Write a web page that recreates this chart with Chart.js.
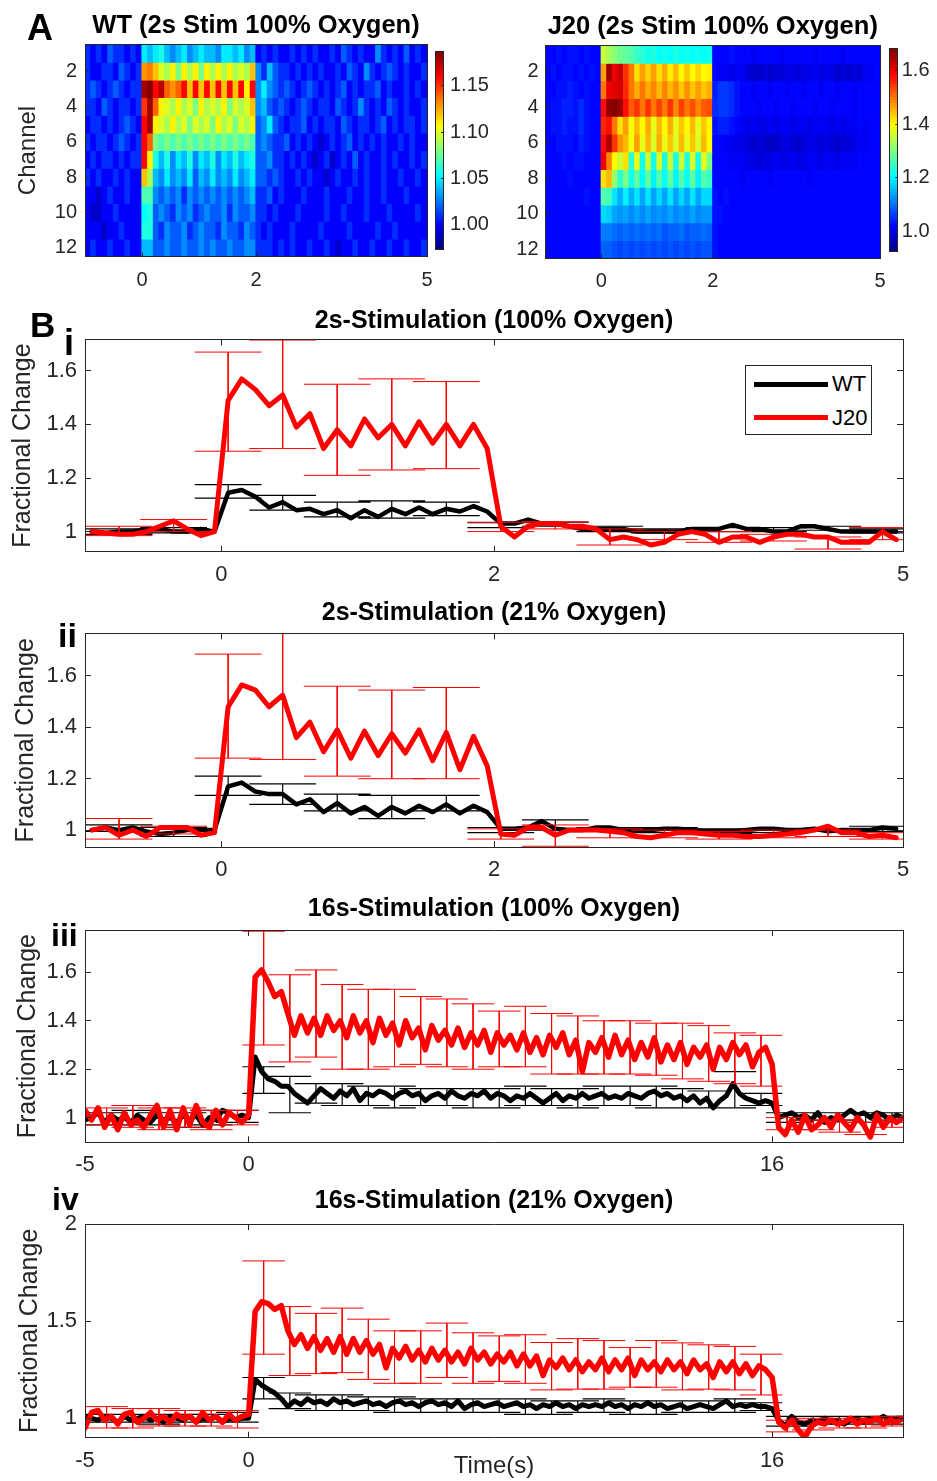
<!DOCTYPE html>
<html>
<head>
<meta charset="utf-8">
<script src="https://cdn.jsdelivr.net/npm/chart.js@4.4.0/dist/chart.umd.min.js"></script>
<style>
body { margin: 0; background: #fff; }
#fig { position: relative; width: 937px; height: 1481px; background: #fff; font-family: "Liberation Sans", Arial, sans-serif; overflow: hidden; }
#fig canvas { position: absolute; }
.lab { position: absolute; font-weight: bold; line-height: 1; color: #000; }
#legend { position: absolute; left: 745px; top: 365px; width: 127px; height: 70px; border: 1px solid #262626; background: #fff; box-sizing: border-box; font-size: 22px; color: #000; }
#legend div { position: absolute; }
</style>
</head>
<body>
<div id="fig">
  <canvas id="hmWT" width="458" height="300" style="left:0;top:0"></canvas>
  <canvas id="cbWT" width="70" height="240" style="left:431px;top:30px"></canvas>
  <canvas id="hmJ20" width="440" height="300" style="left:470px;top:0"></canvas>
  <canvas id="cbJ20" width="53" height="240" style="left:884px;top:30px"></canvas>
  <canvas id="b1" width="937" height="300" style="left:0;top:290px"></canvas>
  <canvas id="b2" width="937" height="297" style="left:0;top:583px"></canvas>
  <canvas id="b3" width="937" height="300" style="left:0;top:880px"></canvas>
  <canvas id="b4" width="937" height="311" style="left:0;top:1170px"></canvas>

  <div class="lab" style="left:27px;top:10px;font-size:36px">A</div>
  <div class="lab" style="left:30px;top:307px;font-size:35px">B</div>
  <div class="lab" style="left:64px;top:325px;font-size:36px">i</div>
  <div class="lab" style="left:58px;top:618px;font-size:34px">ii</div>
  <div class="lab" style="left:51px;top:919px;font-size:32px">iii</div>
  <div class="lab" style="left:52px;top:1183px;font-size:32px">iv</div>

  <div id="legend">
    <div style="left:8px;top:16px;width:74px;height:5px;background:#000"></div>
    <div style="left:86px;top:6px;line-height:24px">WT</div>
    <div style="left:8px;top:49px;width:74px;height:5px;background:#f00"></div>
    <div style="left:86px;top:40px;line-height:24px">J20</div>
  </div>
</div>

<script>
// ---------- panel A: heatmaps (12 channels x 60 bins of 0.1 s, -1 s .. 5 s) ----------
const binStart = -1, binWidth = 0.1;
const channels = [1, 2, 3, 4, 5, 6, 7, 8, 9, 10, 11, 12];
const channelTicks = [2, 4, 6, 8, 10, 12];
const heatTimeTicks = [0, 2, 5];
const wtRange = [0.974, 1.1875];
const wtBarTicks = [1.00, 1.05, 1.10, 1.15];
const j20Range = [0.923, 1.683];
const j20BarTicks = [1.0, 1.2, 1.4, 1.6];

const wtCh1 = [
1.01,1.00,1.01,1.00,1.02,1.01,1.01,1.00,1.01,1.00,
1.05,1.04,1.05,1.06,1.04,1.03,1.04,1.05,1.03,1.04,
1.05,1.04,1.04,1.03,1.05,1.05,1.04,1.05,1.03,1.04,
1.00,1.01,1.00,1.01,1.00,1.00,1.01,1.00,1.01,1.00,
1.01,1.00,1.00,1.01,1.00,1.02,1.01,1.00,1.01,1.00,
1.00,1.03,1.01,1.00,1.01,1.00,1.02,1.00,1.01,1.00];
const wtCh2 = [
1.01,1.00,1.00,1.01,1.01,1.00,1.02,1.01,1.00,1.01,
1.13,1.135,1.12,1.10,1.09,1.11,1.08,1.11,1.09,1.11,
1.08,1.11,1.09,1.11,1.09,1.11,1.09,1.10,1.09,1.12,
1.03,1.01,1.04,1.02,1.01,1.01,1.00,1.01,1.00,1.01,
1.00,1.01,1.00,1.00,1.01,1.00,1.02,1.01,1.00,1.03,
1.01,1.00,1.01,1.02,1.01,1.00,1.01,1.00,1.00,1.01];
const wtCh3 = [
1.01,1.02,1.01,1.00,1.01,1.02,1.01,1.00,1.01,1.01,
1.18,1.187,1.16,1.175,1.14,1.13,1.14,1.16,1.12,1.16,
1.12,1.16,1.12,1.16,1.12,1.16,1.12,1.16,1.11,1.16,
1.03,1.05,1.03,1.02,1.01,1.02,1.01,1.00,1.01,1.02,
1.01,1.00,1.01,1.00,1.01,1.02,1.00,1.01,1.00,1.01,
1.01,1.02,1.00,1.01,1.00,1.00,1.01,1.00,1.01,1.00];
const wtCh4 = [
1.01,1.01,1.00,1.02,1.01,1.00,1.01,1.01,1.00,1.01,
1.15,1.18,1.14,1.11,1.10,1.09,1.11,1.09,1.10,1.08,
1.11,1.09,1.10,1.09,1.11,1.08,1.10,1.09,1.10,1.12,
1.03,1.04,1.02,1.01,1.02,1.01,1.00,1.01,1.02,1.01,
1.00,1.01,1.01,1.00,1.02,1.01,1.00,1.01,1.03,1.01,
1.00,1.01,1.00,1.02,1.01,1.00,1.01,1.00,1.00,1.01];
const wtCh5 = [
1.00,1.01,1.01,1.00,1.01,1.00,1.01,1.02,1.01,1.00,
1.16,1.18,1.11,1.10,1.09,1.11,1.09,1.10,1.08,1.10,
1.09,1.10,1.08,1.11,1.09,1.10,1.08,1.10,1.09,1.11,
1.02,1.03,1.05,1.02,1.01,1.00,1.01,1.01,1.02,1.00,
1.01,1.00,1.01,1.01,1.00,1.02,1.01,1.00,1.01,1.01,
1.00,1.01,1.02,1.00,1.01,1.00,1.01,1.01,1.00,1.01];
const wtCh6 = [
1.01,1.00,1.01,1.01,1.00,1.01,1.02,1.01,1.00,1.01,
1.16,1.14,1.08,1.07,1.08,1.07,1.08,1.07,1.08,1.07,
1.08,1.07,1.08,1.07,1.08,1.07,1.08,1.07,1.08,1.07,
1.02,1.03,1.02,1.01,1.01,1.02,1.00,1.01,1.00,1.01,
1.00,0.99,1.00,1.01,1.00,1.01,1.02,1.00,1.01,1.00,
1.01,1.00,1.01,1.00,1.00,1.01,1.00,1.01,1.00,1.00];
const wtCh7 = [
1.00,1.01,1.00,1.01,1.01,1.00,1.01,1.00,1.01,1.01,
1.16,1.11,1.06,1.04,1.06,1.03,1.05,1.04,1.06,1.03,
1.05,1.04,1.06,1.03,1.05,1.04,1.06,1.04,1.05,1.06,
1.02,1.02,1.03,1.01,1.01,1.00,1.01,1.00,1.01,1.00,
0.99,1.00,1.01,0.99,1.00,1.01,1.00,1.02,1.00,1.01,
1.00,1.00,1.01,1.00,1.01,1.00,1.00,1.01,1.00,1.01];
const wtCh8 = [
1.01,1.00,1.01,1.00,1.00,1.01,1.00,1.01,1.00,1.00,
1.12,1.09,1.04,1.03,1.05,1.03,1.04,1.03,1.05,1.02,
1.04,1.03,1.05,1.03,1.04,1.03,1.05,1.03,1.04,1.05,
1.02,1.02,1.01,1.02,1.01,1.00,1.00,1.01,1.00,1.01,
1.00,1.00,0.99,1.00,1.01,1.00,1.00,1.01,1.00,1.01,
1.00,1.00,1.01,1.00,1.00,1.01,1.00,1.00,1.01,1.00];
const wtCh9 = [
1.00,1.00,0.99,1.00,1.01,1.00,1.00,1.01,1.00,1.00,
1.07,1.07,1.03,1.02,1.03,1.02,1.03,1.01,1.03,1.02,
1.03,1.02,1.03,1.02,1.03,1.02,1.03,1.02,1.03,1.04,
1.01,1.01,1.02,1.00,1.01,1.00,1.00,1.00,1.01,1.00,
1.00,1.00,1.01,1.00,1.00,1.00,1.01,1.00,1.00,1.01,
1.00,1.00,1.01,1.00,1.00,1.00,1.01,1.00,1.00,1.00];
const wtCh10 = [
1.00,0.99,0.99,1.00,1.00,1.01,1.00,1.00,1.00,1.00,
1.055,1.06,1.02,1.03,1.02,1.01,1.03,1.02,1.03,1.01,
1.02,1.03,1.02,1.02,1.03,1.01,1.03,1.02,1.02,1.03,
1.01,1.01,1.00,1.01,1.00,1.00,1.00,1.01,1.00,1.00,
1.00,1.00,1.01,1.00,1.00,1.01,1.00,1.00,1.00,1.01,
1.00,1.00,1.00,1.01,1.00,1.00,1.00,1.00,1.01,1.00];
const wtCh11 = [
1.00,1.00,1.00,0.99,1.00,1.00,1.01,1.00,1.00,1.00,
1.06,1.06,1.02,1.01,1.03,1.02,1.02,1.03,1.01,1.02,
1.03,1.02,1.02,1.01,1.03,1.02,1.02,1.01,1.03,1.02,
1.01,1.00,1.01,1.00,1.00,1.00,1.01,1.00,1.00,1.00,
1.00,1.01,1.00,1.00,1.00,1.00,1.01,1.00,1.00,1.00,
1.00,1.01,1.00,1.00,1.01,1.00,1.00,1.00,1.00,1.00];
const wtCh12 = [
1.00,1.01,1.00,1.00,1.01,1.00,1.00,1.01,1.00,1.00,
1.04,1.04,1.02,1.02,1.03,1.02,1.02,1.03,1.02,1.02,
1.03,1.02,1.03,1.02,1.02,1.03,1.02,1.02,1.03,1.03,
1.01,1.01,1.01,1.00,1.01,1.00,1.01,1.00,1.00,1.01,
1.00,1.00,1.01,1.00,0.99,1.00,1.00,1.01,1.00,1.00,
1.01,1.00,1.00,1.01,1.00,1.00,1.01,1.00,1.00,1.01];

const j20Ch1 = [
1.02,1.02,1.03,1.02,1.03,1.03,1.02,1.03,1.02,1.02,
1.36,1.33,1.31,1.29,1.28,1.27,1.25,1.24,1.22,1.23,
1.21,1.22,1.21,1.23,1.21,1.22,1.21,1.22,1.21,1.22,
1.02,1.02,1.02,1.03,1.02,1.02,1.02,1.01,1.02,1.02,
1.02,1.02,1.01,1.02,1.02,1.02,1.02,1.02,1.01,1.02,
1.02,1.02,1.02,1.01,1.02,1.02,1.02,1.02,1.02,1.02];
const j20Ch2 = [
1.02,1.03,1.02,1.03,1.03,1.02,1.03,1.02,1.03,1.02,
1.47,1.66,1.60,1.63,1.55,1.50,1.42,1.47,1.43,1.47,
1.42,1.46,1.41,1.45,1.40,1.44,1.40,1.43,1.40,1.41,
1.02,1.01,1.01,1.00,1.01,1.01,0.99,0.98,0.98,0.99,
0.98,0.99,0.99,1.00,1.00,0.99,1.00,1.00,1.01,1.00,
1.00,1.00,0.98,0.99,0.98,0.99,0.99,1.01,1.01,1.02];
const j20Ch3 = [
1.02,1.02,1.03,1.03,1.04,1.03,1.02,1.03,1.02,1.02,
1.50,1.60,1.61,1.62,1.56,1.50,1.46,1.50,1.46,1.49,
1.45,1.49,1.45,1.48,1.44,1.48,1.44,1.47,1.44,1.46,
1.04,1.06,1.06,1.05,1.03,1.02,1.02,1.01,1.02,1.02,
1.01,1.02,1.02,1.01,1.02,1.02,1.01,1.02,1.02,1.01,
1.02,1.02,1.01,1.02,1.02,1.01,1.02,1.02,1.02,1.02];
const j20Ch4 = [
1.02,1.03,1.03,1.04,1.04,1.03,1.05,1.03,1.02,1.02,
1.58,1.67,1.68,1.66,1.58,1.52,1.55,1.50,1.55,1.50,
1.54,1.50,1.55,1.49,1.54,1.50,1.53,1.49,1.52,1.53,
1.05,1.06,1.06,1.05,1.03,1.02,1.02,1.02,1.01,1.02,
1.02,1.01,1.02,1.02,1.01,1.02,1.02,1.02,1.01,1.02,
1.02,1.01,1.02,1.02,1.02,1.01,1.02,1.02,1.02,1.02];
const j20Ch5 = [
1.02,1.03,1.03,1.04,1.03,1.03,1.05,1.03,1.02,1.02,
1.56,1.58,1.50,1.42,1.47,1.39,1.45,1.40,1.46,1.38,
1.45,1.40,1.46,1.38,1.44,1.40,1.45,1.38,1.44,1.40,
1.03,1.04,1.04,1.03,1.02,1.01,1.00,1.01,1.00,1.00,
1.01,1.00,1.01,1.01,1.00,1.01,1.01,1.00,1.01,1.01,
1.01,1.00,1.01,1.00,1.01,1.01,1.02,1.01,1.02,1.02];
const j20Ch6 = [
1.02,1.02,1.03,1.03,1.03,1.02,1.04,1.03,1.02,1.02,
1.58,1.65,1.55,1.48,1.45,1.39,1.47,1.38,1.45,1.37,
1.46,1.38,1.44,1.37,1.45,1.38,1.44,1.37,1.45,1.40,
1.02,1.02,1.01,1.01,1.00,1.00,0.99,0.98,0.99,0.98,
0.97,0.98,0.99,1.00,0.99,0.98,0.99,1.00,1.00,0.99,
1.00,0.99,0.98,0.99,0.99,1.00,1.01,1.01,1.02,1.02];
const j20Ch7 = [
1.02,1.02,1.02,1.03,1.02,1.03,1.03,1.02,1.02,1.02,
1.60,1.49,1.40,1.36,1.42,1.24,1.38,1.22,1.36,1.22,
1.37,1.23,1.36,1.22,1.36,1.23,1.37,1.22,1.38,1.30,
1.02,1.02,1.02,1.01,1.01,1.01,1.00,1.00,0.99,1.00,
1.00,1.01,1.00,1.00,1.01,1.00,1.00,1.01,1.01,1.00,
1.01,1.01,1.00,1.01,1.01,1.01,1.02,1.02,1.02,1.02];
const j20Ch8 = [
1.02,1.02,1.02,1.02,1.03,1.02,1.02,1.02,1.02,1.02,
1.42,1.45,1.32,1.24,1.30,1.22,1.28,1.21,1.28,1.20,
1.27,1.21,1.28,1.20,1.27,1.21,1.28,1.20,1.27,1.25,
1.02,1.02,1.02,1.02,1.02,1.01,1.02,1.02,1.02,1.02,
1.01,1.02,1.02,1.02,1.02,1.02,1.02,1.01,1.02,1.02,
1.02,1.02,1.02,1.02,1.02,1.02,1.02,1.02,1.02,1.02];
const j20Ch9 = [
1.02,1.02,1.02,1.02,1.02,1.02,1.02,1.03,1.02,1.02,
1.27,1.26,1.19,1.15,1.20,1.15,1.19,1.14,1.19,1.14,
1.18,1.14,1.19,1.14,1.18,1.14,1.19,1.14,1.18,1.18,
1.03,1.02,1.03,1.02,1.02,1.02,1.02,1.02,1.02,1.02,
1.02,1.02,1.02,1.02,1.02,1.02,1.02,1.02,1.02,1.02,
1.02,1.02,1.02,1.02,1.02,1.02,1.02,1.02,1.02,1.02];
const j20Ch10 = [
1.02,1.02,1.02,1.02,1.02,1.02,1.02,1.02,1.02,1.02,
1.18,1.17,1.14,1.13,1.14,1.12,1.14,1.12,1.14,1.12,
1.13,1.12,1.14,1.12,1.13,1.12,1.14,1.12,1.13,1.13,
1.03,1.03,1.02,1.02,1.02,1.02,1.02,1.02,1.02,1.02,
1.02,1.02,1.02,1.02,1.02,1.02,1.02,1.02,1.02,1.02,
1.02,1.02,1.02,1.02,1.02,1.02,1.02,1.02,1.02,1.02];
const j20Ch11 = [
1.02,1.02,1.02,1.02,1.02,1.02,1.02,1.02,1.02,1.02,
1.11,1.11,1.10,1.09,1.10,1.09,1.10,1.09,1.10,1.09,
1.10,1.08,1.09,1.09,1.10,1.08,1.09,1.09,1.10,1.09,
1.03,1.02,1.02,1.02,1.02,1.02,1.02,1.02,1.02,1.02,
1.02,1.02,1.02,1.02,1.02,1.02,1.02,1.02,1.02,1.02,
1.02,1.02,1.02,1.02,1.02,1.02,1.02,1.02,1.02,1.02];
const j20Ch12 = [
1.02,1.02,1.02,1.02,1.02,1.02,1.02,1.02,1.02,1.02,
1.09,1.09,1.08,1.07,1.08,1.07,1.08,1.07,1.08,1.07,
1.08,1.07,1.08,1.07,1.08,1.07,1.08,1.07,1.08,1.08,
1.03,1.02,1.02,1.02,1.02,1.02,1.02,1.02,1.02,1.02,
1.02,1.02,1.02,1.02,1.02,1.02,1.02,1.02,1.02,1.02,
1.02,1.02,1.02,1.02,1.02,1.02,1.02,1.02,1.02,1.02];

const wtRows = [wtCh1, wtCh2, wtCh3, wtCh4, wtCh5, wtCh6, wtCh7, wtCh8, wtCh9, wtCh10, wtCh11, wtCh12];
const j20Rows = [j20Ch1, j20Ch2, j20Ch3, j20Ch4, j20Ch5, j20Ch6, j20Ch7, j20Ch8, j20Ch9, j20Ch10, j20Ch11, j20Ch12];

// ---------- panel B: mean traces ----------
// 2 s stimulation: 60 samples, 0.1 s apart, first at -0.95 s
const t2sStart = -0.95, t2sStep = 0.1;
// 16 s stimulation: 126 samples, 0.2 s apart, first at -5 s
const t16sStart = -5, t16sStep = 0.2;
const xTicks2s = [0, 2, 5];
const xTicks16s = [-5, 0, 16];
const yTicksLow = [1, 1.2, 1.4, 1.6];
const yTicksHigh = [1, 1.5, 2];

const wt2s100 = [
1.00,0.995,1.00,1.00,1.01,1.01,1.00,1.00,1.01,1.00,
1.145,1.155,1.13,1.09,1.11,1.08,1.085,1.065,1.08,1.05,
1.08,1.055,1.085,1.065,1.09,1.065,1.085,1.075,1.095,1.075,
1.03,1.03,1.045,1.03,1.03,1.02,1.01,1.01,1.01,1.01,
1.00,1.00,1.00,1.00,1.01,1.01,1.01,1.025,1.01,1.01,
1.00,1.00,1.02,1.02,1.01,1.00,1.00,1.00,1.00,1.00];
const j20_2s100 = [
1.00,0.995,0.99,0.99,1.00,1.02,1.04,1.01,0.985,1.00,
1.49,1.57,1.53,1.47,1.51,1.39,1.44,1.31,1.38,1.32,
1.42,1.35,1.40,1.32,1.41,1.33,1.40,1.32,1.40,1.31,
1.02,0.98,1.02,1.03,1.03,1.02,1.02,1.01,0.97,0.98,
0.97,0.95,0.96,0.99,1.00,0.99,0.96,0.98,0.98,0.96,
0.98,0.99,0.99,0.98,0.98,0.96,0.96,0.96,1.00,0.97];
const wt2s21 = [
1.00,1.01,1.00,1.01,0.995,0.985,0.99,1.00,1.00,1.00,
1.17,1.185,1.15,1.14,1.14,1.10,1.12,1.07,1.105,1.065,
1.09,1.055,1.09,1.065,1.095,1.07,1.10,1.065,1.095,1.07,
1.005,1.005,1.01,1.035,1.005,1.00,1.00,1.01,1.01,1.00,
1.00,1.00,1.005,1.005,1.00,0.995,0.995,0.995,1.00,1.005,
1.005,1.00,1.00,1.005,0.995,1.00,1.00,1.00,1.01,1.005];
const j20_2s21 = [
1.00,1.01,0.98,1.00,0.975,1.01,1.01,1.01,0.98,0.99,
1.48,1.565,1.545,1.48,1.525,1.36,1.42,1.305,1.39,1.28,
1.385,1.29,1.375,1.30,1.39,1.27,1.38,1.235,1.365,1.25,
0.985,0.98,1.01,1.01,0.98,1.00,1.00,1.00,0.995,0.99,
0.975,0.97,0.98,0.99,0.99,0.985,0.98,0.98,0.975,0.975,
0.98,0.985,0.99,1.00,1.015,0.99,0.99,0.975,0.98,0.97];

const wt16s100 = [
0.99,1.00,1.02,0.98,1.01,0.99,1.00,0.98,1.01,0.99,
0.98,1.01,0.99,1.00,0.98,1.01,0.99,1.01,0.97,1.00,
0.99,1.03,1.02,1.00,1.01,1.00,1.25,1.19,1.16,1.15,
1.13,1.13,1.10,1.08,1.06,1.09,1.12,1.10,1.08,1.11,
1.09,1.12,1.07,1.10,1.09,1.11,1.10,1.08,1.10,1.11,
1.09,1.10,1.07,1.09,1.10,1.08,1.11,1.09,1.08,1.10,
1.09,1.11,1.08,1.10,1.09,1.07,1.09,1.08,1.10,1.08,
1.06,1.08,1.10,1.07,1.09,1.08,1.10,1.08,1.09,1.10,
1.08,1.09,1.08,1.10,1.09,1.08,1.10,1.11,1.09,1.10,
1.08,1.09,1.07,1.09,1.06,1.08,1.04,1.07,1.09,1.14,
1.10,1.08,1.07,1.06,1.07,1.06,1.00,1.01,1.02,1.00,
1.01,0.99,1.02,0.98,1.00,0.99,1.01,1.03,1.01,1.02,
1.00,1.02,1.01,0.99,1.01,1.00];
const j20_16s100 = [
1.03,0.99,1.04,0.96,1.01,0.95,1.02,0.97,0.99,0.96,
1.01,1.05,0.96,1.03,0.95,1.04,0.97,1.05,0.98,0.96,
1.03,0.97,1.02,1.00,0.98,1.01,1.58,1.61,1.56,1.50,
1.52,1.43,1.34,1.42,1.35,1.41,1.34,1.42,1.36,1.40,
1.33,1.42,1.35,1.40,1.31,1.41,1.34,1.39,1.30,1.40,
1.33,1.37,1.28,1.38,1.32,1.36,1.30,1.37,1.29,1.35,
1.30,1.36,1.27,1.35,1.30,1.34,1.28,1.35,1.27,1.33,
1.26,1.34,1.29,1.35,1.26,1.32,1.19,1.31,1.27,1.33,
1.25,1.34,1.26,1.32,1.24,1.31,1.25,1.33,1.23,1.30,
1.24,1.31,1.22,1.29,1.25,1.30,1.20,1.29,1.24,1.31,
1.26,1.30,1.21,1.27,1.29,1.22,0.96,0.93,0.99,0.94,
1.01,0.95,0.97,1.00,0.96,1.01,0.98,0.95,1.00,0.97,
0.92,1.01,0.96,1.00,0.98,1.00];
const wt16s21 = [
1.01,1.00,0.99,1.01,1.00,0.98,1.01,0.99,1.00,1.01,
0.99,1.00,0.98,1.01,1.00,0.99,1.01,0.98,1.00,0.99,
1.01,0.98,1.00,0.99,1.00,1.00,1.20,1.17,1.15,1.13,
1.10,1.06,1.09,1.07,1.10,1.08,1.09,1.07,1.10,1.08,
1.09,1.07,1.08,1.09,1.07,1.08,1.06,1.08,1.09,1.07,
1.08,1.06,1.08,1.09,1.07,1.08,1.06,1.09,1.05,1.07,
1.08,1.06,1.07,1.08,1.06,1.07,1.08,1.06,1.07,1.05,
1.07,1.06,1.08,1.06,1.07,1.05,1.07,1.06,1.07,1.06,
1.08,1.06,1.07,1.05,1.07,1.06,1.08,1.06,1.07,1.05,
1.06,1.07,1.05,1.06,1.07,1.06,1.05,1.07,1.09,1.06,
1.07,1.06,1.07,1.06,1.06,1.05,0.99,0.96,1.01,0.98,
0.97,0.99,0.98,1.00,0.98,0.99,0.97,0.99,1.00,0.98,
1.00,0.99,1.01,0.99,1.00,1.00];
const j20_16s21 = [
0.95,1.03,1.04,0.99,1.01,0.97,1.02,1.03,0.98,1.00,
1.03,0.99,1.01,0.98,1.02,1.00,1.01,0.98,1.03,0.99,
1.01,0.98,1.02,0.99,1.01,1.02,1.55,1.60,1.59,1.56,
1.58,1.45,1.38,1.43,1.36,1.42,1.35,1.41,1.34,1.42,
1.33,1.41,1.34,1.40,1.33,1.38,1.26,1.36,1.31,1.37,
1.30,1.35,1.29,1.36,1.30,1.35,1.29,1.34,1.28,1.36,
1.30,1.34,1.28,1.33,1.29,1.34,1.27,1.33,1.27,1.32,
1.22,1.30,1.26,1.31,1.25,1.30,1.24,1.29,1.25,1.31,
1.24,1.30,1.25,1.31,1.22,1.30,1.25,1.29,1.24,1.30,
1.25,1.29,1.23,1.30,1.25,1.28,1.21,1.29,1.24,1.29,
1.23,1.28,1.22,1.27,1.25,1.21,0.98,0.95,0.99,0.94,
0.90,0.96,0.98,0.97,0.99,0.97,0.98,1.00,0.97,0.99,
0.98,1.00,0.97,0.99,0.98,1.00];

// error bars (upper / lower ends) at these times
const errT2s = [-0.75,-0.35,0.05,0.45,0.85,1.25,1.65,2.05,2.45,2.85,3.25,3.65,4.05,4.45,4.85];
const j20_2s100Hi = [1.02,1.045,1.67,1.715,1.55,1.57,1.56,1.035,1.037,1.01,1.00,1.00,0.99,0.98,1.015];
const j20_2s100Lo = [0.985,1.00,1.30,1.31,1.21,1.23,1.235,1.00,1.01,0.95,0.97,0.96,0.965,0.935,0.97];
const wt2s100Hi = [1.01,1.015,1.175,1.135,1.11,1.115,1.11,1.033,1.035,1.02,1.01,1.015,1.015,1.02,1.01];
const wt2s100Lo = [0.99,0.995,1.125,1.08,1.055,1.05,1.06,1.015,1.02,1.00,0.995,1.00,1.00,1.005,0.995];
const j20_2s21Hi = [1.045,1.015,1.685,1.765,1.56,1.545,1.555,1.005,1.02,1.005,1.00,0.995,1.00,1.00,0.99];
const j20_2s21Lo = [0.965,0.985,1.28,1.275,1.21,1.20,1.20,0.965,0.937,0.97,0.97,0.965,0.97,0.975,0.965];
const wt2s21Hi = [1.02,1.01,1.21,1.18,1.14,1.135,1.135,1.01,1.04,1.01,1.01,1.005,1.005,1.005,1.015];
const wt2s21Lo = [0.995,0.975,1.135,1.10,1.075,1.045,1.075,0.99,1.00,0.995,0.99,0.985,0.99,0.995,0.995];

const errT16s = [-4.34,-3.54,-2.74,-1.94,-1.14,-0.34,0.46,1.26,2.06,2.86,3.66,4.46,5.26,6.06,6.86,
  7.66,8.46,9.26,10.06,10.86,11.66,12.46,13.26,14.06,14.86,15.66,16.46,17.26,18.06,18.86,19.66];
const j20_16s100Hi = [1.04,1.05,1.04,1.04,1.03,1.03, 1.77,1.59,1.61,1.55,1.53,1.53,1.50,1.49,1.47,
  1.44,1.46,1.43,1.42,1.40,1.40,1.39,1.39,1.38,1.35,1.34, 1.00,0.99,0.99,0.98,0.98];
const j20_16s100Lo = [0.97,0.96,0.95,0.96,0.95,0.97, 1.30,1.23,1.25,1.20,1.20,1.21,1.22,1.21,1.20,
  1.21,1.21,1.18,1.18,1.18,1.18,1.175,1.16,1.15,1.14,1.13, 0.95,0.95,0.94,0.93,0.96];
const wt16s100Hi = [1.02,1.03,1.02,1.02,1.03,1.03, 1.21,1.17,1.14,1.14,1.13,1.13,1.12,1.12,1.12,
  1.12,1.13,1.12,1.12,1.13,1.13,1.13,1.12,1.11,1.19,1.10, 1.02,1.02,1.02,1.02,1.02];
const wt16s100Lo = [0.97,0.97,0.97,0.96,0.97,0.98, 1.10,1.02,1.06,1.05,1.05,1.04,1.05,1.05,1.04,
  1.04,1.05,1.05,1.04,1.05,1.05,1.04,1.04,1.04,1.04,1.05, 0.98,0.99,0.99,0.98,0.99];
const j20_16s21Hi = [1.06,1.05,1.05,1.04,1.04,1.04, 1.81,1.575,1.54,1.567,1.51,1.45,1.45,1.49,1.44,
  1.424,1.43,1.39,1.41,1.40,1.364,1.40,1.388,1.378,1.37,1.33, 0.99,1.00,1.00,1.00,1.01];
const j20_16s21Lo = [0.95,0.95,0.96,0.96,0.96,0.95, 1.33,1.22,1.23,1.235,1.20,1.18,1.18,1.21,1.18,
  1.19,1.18,1.146,1.15,1.15,1.16,1.16,1.146,1.15,1.146,1.12, 0.93,0.94,0.95,0.95,0.96];
const wt16s21Hi = [1.02,1.02,1.02,1.02,1.02,1.03, 1.21,1.13,1.12,1.12,1.11,1.11,1.10,1.10,1.10,
  1.10,1.10,1.09,1.09,1.10,1.09,1.09,1.09,1.09,1.10,1.08, 1.01,1.01,1.01,1.01,1.01];
const wt16s21Lo = [0.98,0.98,0.97,0.98,0.98,0.98, 1.10,1.05,1.04,1.04,1.04,1.03,1.03,1.03,1.03,
  1.03,1.02,1.02,1.03,1.03,1.02,1.02,1.03,1.03,1.03,1.04, 0.96,0.97,0.97,0.97,0.97];

// ---------- drawing ----------
Chart.defaults.font.family = '"Liberation Sans", Arial, sans-serif';
Chart.defaults.color = '#262626';
const AX = '#262626';
const RED = '#ff0000';

const fixed = px => s => { if (s.isHorizontal()) s.height = px; else s.width = px; };
const tickList = vals => s => { s.ticks = vals.map(v => ({value: v})); };

function jet(f) {
  f = Math.min(1, Math.max(0, f));
  const c = x => Math.round(255 * Math.min(1, Math.max(0, x)));
  return 'rgb(' + c(1.5 - Math.abs(4 * f - 3)) + ',' + c(1.5 - Math.abs(4 * f - 2)) + ',' + c(1.5 - Math.abs(4 * f - 1)) + ')';
}

function titleOpts(text, centerY, areaTop, size) {
  const lh = size * 1.2;
  const top = centerY - lh / 2;
  return {display: true, text: text, fullSize: false, color: '#000',
    font: {size: size, weight: 'bold'}, padding: {top: top, bottom: areaTop - top - lh}};
}

const baseOpts = {responsive: false, animation: false, devicePixelRatio: 1,
  layout: {padding: 0, autoPadding: false}};

function heatmap(id, rows, range, g) {
  const aL = g.areaL - g.left, aR = g.areaR - g.left, aT = g.areaT - g.top, aB = g.areaB - g.top;
  const tl = -4;
  const span = range[1] - range[0];
  const datasets = rows.map((row, i) => ({
    data: row.map((v, j) => ({x: binStart + binWidth * (j + 0.5), y: [channels[i] - 0.5, channels[i] + 0.5]})),
    backgroundColor: row.map(v => jet((v - range[0]) / span)),
    borderWidth: 0, grouped: false, barPercentage: 1, categoryPercentage: 1, inflateAmount: 0.6
  }));
  const xr = {min: binStart, max: binStart + binWidth * rows[0].length};
  new Chart(document.getElementById(id), {
    type: 'bar',
    data: {datasets: datasets},
    options: Object.assign({}, baseOpts, {
      plugins: {legend: {display: false}, tooltip: {enabled: false},
        title: titleOpts(g.title, g.titleY - g.top, aT, 25.5)},
      scales: {
        x: Object.assign({type: 'linear', offset: false}, xr, {
          afterBuildTicks: tickList(heatTimeTicks),
          ticks: {autoSkip: false, maxRotation: 0, font: {size: 20}, color: AX,
            padding: g.xLabelY - g.areaB - tl - 12, callback: v => String(v)},
          grid: {offset: false, drawOnChartArea: false, tickLength: tl, color: AX, z: 1},
          border: {color: AX, z: 1}, afterFit: fixed(g.height - aB)}),
        x2: Object.assign({type: 'linear', position: 'top', offset: false}, xr, {
          ticks: {display: false}, grid: {display: false}, border: {color: AX, z: 1}, afterFit: fixed(0)}),
        y: {type: 'linear', min: 0.5, max: 12.5, reverse: true,
          afterBuildTicks: tickList(channelTicks),
          ticks: {autoSkip: false, font: {size: 20}, color: AX, padding: g.areaL - g.yLabelR - tl},
          grid: {drawOnChartArea: false, tickLength: tl, color: AX, z: 1},
          border: {color: AX, z: 1},
          title: g.yTitle ? {display: true, text: g.yTitle, color: AX, font: {size: 24},
            padding: {top: g.yTitleX - g.left - 14.4, bottom: 0}} : {display: false},
          afterFit: fixed(aL)},
        y2: {type: 'linear', position: 'right', min: 0.5, max: 12.5, reverse: true,
          ticks: {display: false}, grid: {display: false}, border: {color: AX, z: 1},
          afterFit: fixed(g.width - aR)}
      }
    })
  });
}

function colorbar(id, range, ticks, digits, g) {
  const aL = g.areaL - g.left, aR = g.areaR - g.left, aT = g.areaT - g.top, aB = g.areaB - g.top;
  const n = 64;
  const levels = Array.from({length: n}, (_, i) => i);
  const step = (range[1] - range[0]) / n;
  const tl = -2;
  new Chart(document.getElementById(id), {
    type: 'bar',
    data: {datasets: [{
      data: levels.map(i => ({x: 0.5, y: [range[0] + i * step, range[0] + (i + 1) * step]})),
      backgroundColor: levels.map(i => jet((i + 0.5) / n)),
      borderWidth: 0, grouped: false, barThickness: aR - aL, inflateAmount: 0.6
    }]},
    options: Object.assign({}, baseOpts, {
      plugins: {legend: {display: false}, tooltip: {enabled: false}},
      scales: {
        x: {type: 'linear', min: 0, max: 1, offset: false, ticks: {display: false},
          grid: {display: false}, border: {color: AX, z: 1}, afterFit: fixed(g.height - aB)},
        x2: {type: 'linear', position: 'top', min: 0, max: 1, offset: false, ticks: {display: false},
          grid: {display: false}, border: {color: AX, z: 1}, afterFit: fixed(aT)},
        y: {type: 'linear', min: range[0], max: range[1], ticks: {display: false},
          grid: {display: false}, border: {color: AX, z: 1}, afterFit: fixed(aL)},
        y2: {type: 'linear', position: 'right', min: range[0], max: range[1],
          afterBuildTicks: tickList(ticks),
          ticks: {autoSkip: false, font: {size: 20}, color: AX, padding: g.labelL - g.areaR - tl,
            callback: v => v.toFixed(digits)},
          grid: {drawOnChartArea: false, tickLength: tl, color: AX, z: 1},
          border: {color: AX, z: 1}, afterFit: fixed(g.width - aR)}
      }
    })
  });
}

function errSegments(times, hi, lo, cap) {
  const pts = [];
  times.forEach((t, i) => {
    pts.push({x: t - cap, y: hi[i]}, {x: t + cap, y: hi[i]}, {x: t, y: null},
             {x: t, y: hi[i]}, {x: t, y: lo[i]}, {x: t, y: null},
             {x: t - cap, y: lo[i]}, {x: t + cap, y: lo[i]}, {x: t, y: null});
  });
  return pts;
}

function tracePanel(id, g, d) {
  const aT = g.areaT - g.top, aB = g.areaB - g.top;
  const tl = -6;
  const trace = arr => arr.map((v, i) => ({x: d.t0 + d.dt * i, y: v}));
  const lineDs = (data, color, w) => ({data: data, borderColor: color, borderWidth: w, pointRadius: 0,
    tension: 0, borderJoinStyle: 'round', borderCapStyle: 'round', fill: false});
  const errDs = (data, color, w) => ({data: data, borderColor: color, borderWidth: w, pointRadius: 0,
    tension: 0, spanGaps: false, fill: false});
  const xr = {min: d.xMin, max: d.xMax};
  const yr = {min: d.yMin, max: d.yMax};
  new Chart(document.getElementById(id), {
    type: 'line',
    data: {datasets: [
      lineDs(trace(d.red), RED, d.redW),
      errDs(errSegments(d.errT, d.redHi, d.redLo, d.cap), RED, 1),
      lineDs(trace(d.wt), '#000', d.wtW),
      errDs(errSegments(d.errT, d.wtHi, d.wtLo, d.cap), '#000', 1.2)
    ]},
    options: Object.assign({}, baseOpts, {
      plugins: {legend: {display: false}, tooltip: {enabled: false},
        title: titleOpts(d.title, g.titleY - g.top, aT, 25)},
      scales: {
        x: Object.assign({type: 'linear'}, xr, {
          afterBuildTicks: tickList(d.xTicks),
          ticks: {autoSkip: false, maxRotation: 0, font: {size: 22}, color: AX,
            padding: g.xLabelY - g.areaB - tl - 13.2, callback: v => String(v)},
          grid: {drawOnChartArea: false, tickLength: tl, color: AX, z: 1},
          border: {color: AX, z: 1},
          title: d.xTitle ? {display: true, text: d.xTitle, color: AX, font: {size: 24},
            padding: {top: 0, bottom: 0}} : {display: false},
          afterFit: fixed(g.height - aB)}),
        x2: Object.assign({type: 'linear', position: 'top'}, xr, {
          afterBuildTicks: tickList(d.xTicks), ticks: {display: false},
          grid: {drawOnChartArea: false, tickLength: tl, color: AX, z: 1},
          border: {color: AX, z: 1}, afterFit: fixed(0)}),
        y: Object.assign({type: 'linear'}, yr, {
          afterBuildTicks: tickList(d.yTicks),
          ticks: {autoSkip: false, font: {size: 22}, color: AX, padding: 85 - 77 - tl,
            callback: v => String(v)},
          grid: {drawOnChartArea: false, tickLength: tl, color: AX, z: 1},
          border: {color: AX, z: 1},
          title: {display: true, text: 'Fractional Change', color: AX, font: {size: 25},
            padding: {top: g.yTitleX - 15, bottom: 0}},
          afterFit: fixed(85)}),
        y2: Object.assign({type: 'linear', position: 'right'}, yr, {
          afterBuildTicks: tickList(d.yTicks), ticks: {display: false},
          grid: {drawOnChartArea: false, tickLength: tl, color: AX, z: 1},
          border: {color: AX, z: 1}, afterFit: fixed(937 - 903)})
      }
    })
  });
}

// panel A
heatmap('hmWT', wtRows, wtRange, {left: 0, top: 0, width: 458, height: 300,
  areaL: 85, areaR: 427, areaT: 44.5, areaB: 256.5, titleY: 26, xLabelY: 280, yLabelR: 77,
  title: 'WT (2s Stim 100% Oxygen)', yTitle: 'Channel', yTitleX: 28.5});
colorbar('cbWT', wtRange, wtBarTicks, 2, {left: 431, top: 30, width: 70, height: 240,
  areaL: 435, areaR: 443, areaT: 46.3, areaB: 256.3, labelL: 450});
heatmap('hmJ20', j20Rows, j20Range, {left: 470, top: 0, width: 440, height: 300,
  areaL: 545.5, areaR: 880, areaT: 45.3, areaB: 258, titleY: 26.5, xLabelY: 281, yLabelR: 538.5,
  title: 'J20 (2s Stim 100% Oxygen)'});
colorbar('cbJ20', j20Range, j20BarTicks, 1, {left: 884, top: 30, width: 53, height: 240,
  areaL: 889.3, areaR: 897.3, areaT: 46.7, areaB: 260, labelL: 901.7});

// panel B
tracePanel('b1', {top: 290, height: 300, areaT: 339.5, areaB: 551.7, titleY: 321, xLabelY: 575, yTitleX: 23},
  {title: '2s-Stimulation (100% Oxygen)', red: j20_2s100, wt: wt2s100, t0: t2sStart, dt: t2sStep,
   errT: errT2s, redHi: j20_2s100Hi, redLo: j20_2s100Lo, wtHi: wt2s100Hi, wtLo: wt2s100Lo, cap: 0.245,
   xMin: -1, xMax: 5, yMin: 0.925, yMax: 1.717, xTicks: xTicks2s, yTicks: yTicksLow, redW: 5, wtW: 4.5});
tracePanel('b2', {top: 583, height: 297, areaT: 633.3, areaB: 847.3, titleY: 613, xLabelY: 869.5, yTitleX: 26},
  {title: '2s-Stimulation (21% Oxygen)', red: j20_2s21, wt: wt2s21, t0: t2sStart, dt: t2sStep,
   errT: errT2s, redHi: j20_2s21Hi, redLo: j20_2s21Lo, wtHi: wt2s21Hi, wtLo: wt2s21Lo, cap: 0.245,
   xMin: -1, xMax: 5, yMin: 0.933, yMax: 1.766, xTicks: xTicks2s, yTicks: yTicksLow, redW: 5, wtW: 4.5});
tracePanel('b3', {top: 880, height: 300, areaT: 930, areaB: 1142.3, titleY: 909, xLabelY: 1165, yTitleX: 28},
  {title: '16s-Stimulation (100% Oxygen)', red: j20_16s100, wt: wt16s100, t0: t16sStart, dt: t16sStep,
   errT: errT16s, redHi: j20_16s100Hi, redLo: j20_16s100Lo, wtHi: wt16s100Hi, wtLo: wt16s100Lo, cap: 0.65,
   xMin: -5, xMax: 20, yMin: 0.898, yMax: 1.775, xTicks: xTicks16s, yTicks: yTicksLow, redW: 5.5, wtW: 5});
tracePanel('b4', {top: 1170, height: 311, areaT: 1224, areaB: 1437.7, titleY: 1201, xLabelY: 1461, yTitleX: 30},
  {title: '16s-Stimulation (21% Oxygen)', red: j20_16s21, wt: wt16s21, t0: t16sStart, dt: t16sStep,
   errT: errT16s, redHi: j20_16s21Hi, redLo: j20_16s21Lo, wtHi: wt16s21Hi, wtLo: wt16s21Lo, cap: 0.65,
   xMin: -5, xMax: 20, yMin: 0.9, yMax: 2.0, xTicks: xTicks16s, yTicks: yTicksHigh, redW: 5.5, wtW: 5,
   xTitle: 'Time(s)'});
</script>
</body>
</html>
